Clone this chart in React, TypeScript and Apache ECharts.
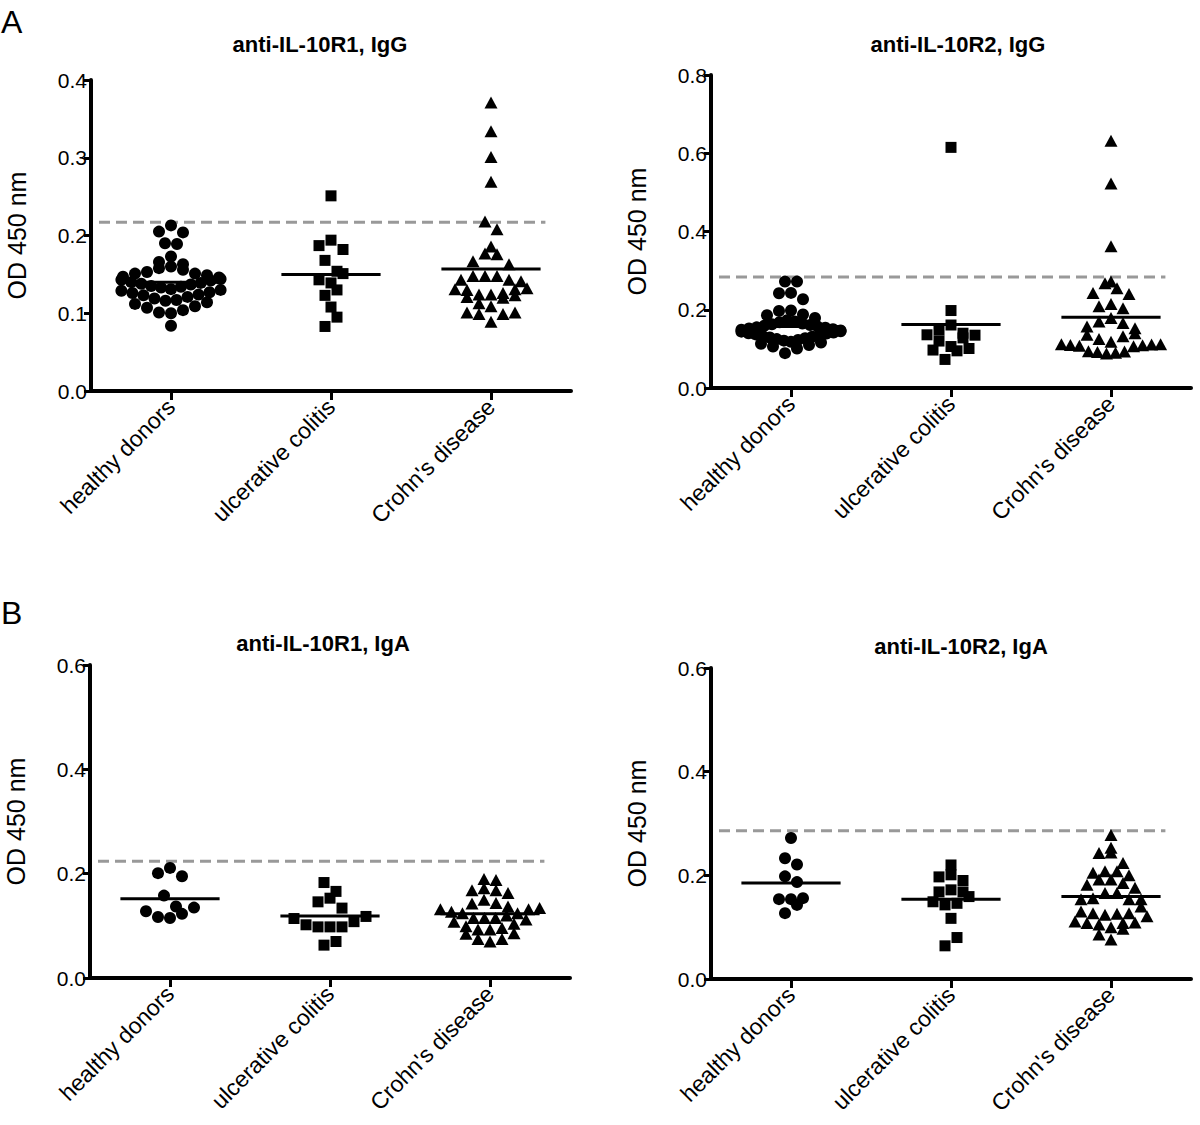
import React, { useEffect, useRef } from "react";
import * as echarts from "echarts";

const categories = ["healthy donors", "ulcerative colitis", "Crohn's disease"];
const titles = ["anti-IL-10R1, IgG", "anti-IL-10R2, IgG", "anti-IL-10R1, IgA", "anti-IL-10R2, IgA"];
const yAxisName = "OD 450 nm";
const panelLetters = ["A", "B"];

const yMaxes = [0.4, 0.8, 0.6, 0.6];
const yIntervals = [0.1, 0.2, 0.2, 0.2];

// anti-IL-10R1, IgG
const hdR1IgG = [0.213, 0.205, 0.204, 0.190, 0.189, 0.173, 0.166, 0.163, 0.160, 0.158, 0.156, 0.153, 0.151, 0.151, 0.149, 0.147, 0.146, 0.144, 0.143, 0.142, 0.140, 0.139, 0.138, 0.137, 0.135, 0.134, 0.133, 0.131, 0.130, 0.129, 0.127, 0.126, 0.124, 0.123, 0.121, 0.119, 0.117, 0.116, 0.114, 0.112, 0.109, 0.107, 0.104, 0.101, 0.100, 0.084];
const ucR1IgG = [0.251, 0.194, 0.187, 0.182, 0.168, 0.154, 0.151, 0.143, 0.139, 0.130, 0.123, 0.108, 0.095, 0.083];
const cdR1IgG = [0.371, 0.334, 0.301, 0.269, 0.218, 0.208, 0.186, 0.177, 0.176, 0.167, 0.163, 0.148, 0.148, 0.148, 0.143, 0.143, 0.141, 0.131, 0.131, 0.130, 0.132, 0.124, 0.123, 0.121, 0.120, 0.124, 0.126, 0.113, 0.109, 0.101, 0.099, 0.099, 0.101, 0.089];
const meansR1IgG = [0.140, 0.150, 0.157];

// anti-IL-10R2, IgG
const hdR2IgG = [0.272, 0.272, 0.243, 0.242, 0.227, 0.198, 0.197, 0.188, 0.186, 0.179, 0.173, 0.170, 0.168, 0.165, 0.163, 0.161, 0.159, 0.157, 0.155, 0.154, 0.152, 0.150, 0.149, 0.147, 0.145, 0.144, 0.142, 0.140, 0.139, 0.137, 0.135, 0.133, 0.131, 0.129, 0.127, 0.125, 0.123, 0.121, 0.118, 0.116, 0.113, 0.110, 0.106, 0.101, 0.089];
const ucR2IgG = [0.615, 0.198, 0.161, 0.148, 0.140, 0.136, 0.135, 0.128, 0.120, 0.106, 0.101, 0.097, 0.095, 0.073];
const cdR2IgG = [0.632, 0.523, 0.362, 0.272, 0.268, 0.255, 0.243, 0.240, 0.215, 0.209, 0.204, 0.179, 0.170, 0.166, 0.157, 0.153, 0.140, 0.136, 0.132, 0.125, 0.118, 0.112, 0.110, 0.111, 0.108, 0.109, 0.107, 0.112, 0.094, 0.092, 0.090, 0.093, 0.088];
const meansR2IgG = [0.157, 0.162, 0.181];

// anti-IL-10R1, IgA
const hdR1IgA = [0.211, 0.201, 0.195, 0.158, 0.137, 0.135, 0.128, 0.123, 0.117, 0.115];
const ucR1IgA = [0.183, 0.166, 0.153, 0.146, 0.134, 0.118, 0.114, 0.108, 0.102, 0.098, 0.098, 0.098, 0.070, 0.063];
const cdR1IgA = [0.190, 0.188, 0.172, 0.168, 0.168, 0.163, 0.150, 0.144, 0.143, 0.137, 0.134, 0.132, 0.132, 0.127, 0.124, 0.124, 0.120, 0.115, 0.115, 0.115, 0.112, 0.108, 0.104, 0.099, 0.096, 0.093, 0.093, 0.086, 0.085, 0.075, 0.075, 0.070];
const meansR1IgA = [0.152, 0.119, 0.123];

// anti-IL-10R2, IgA
const hdR2IgA = [0.272, 0.233, 0.221, 0.198, 0.187, 0.156, 0.154, 0.154, 0.143, 0.127];
const ucR2IgA = [0.220, 0.201, 0.197, 0.190, 0.172, 0.168, 0.168, 0.159, 0.149, 0.146, 0.143, 0.117, 0.080, 0.064];
const cdR2IgA = [0.278, 0.253, 0.244, 0.243, 0.224, 0.208, 0.208, 0.205, 0.200, 0.192, 0.192, 0.185, 0.182, 0.176, 0.166, 0.166, 0.156, 0.154, 0.154, 0.154, 0.140, 0.130, 0.127, 0.127, 0.126, 0.124, 0.121, 0.111, 0.109, 0.108, 0.108, 0.105, 0.100, 0.097, 0.086, 0.076];
const meansR2IgA = [0.185, 0.154, 0.159];

// cut-off (dashed) levels
const cutoffs = [0.217, 0.284, 0.224, 0.286];

const groupsByPanel = [
  [hdR1IgG, ucR1IgG, cdR1IgG],
  [hdR2IgG, ucR2IgG, cdR2IgG],
  [hdR1IgA, ucR1IgA, cdR1IgA],
  [hdR2IgA, ucR2IgA, cdR2IgA],
];
const meansByPanel = [meansR1IgG, meansR2IgG, meansR1IgA, meansR2IgA];

// layout
const grids = [
  { left: 91, top: 80, width: 480, height: 311 },
  { left: 711, top: 75, width: 480, height: 313 },
  { left: 90, top: 665, width: 480, height: 313 },
  { left: 711, top: 668, width: 480, height: 311 },
];
const titlePos = [
  [320, 44],
  [958, 44],
  [323, 643],
  [961, 646],
];
const letterPos = [
  [1, 22],
  [1, 613],
];

const FONT = "'Liberation Sans', Arial, Helvetica, sans-serif";
const symbols = ["circle", "rect", "triangle"];
const symbolSizes: any[] = [12, 11, [13, 12]];
const ROW_H = 11; // px height of a swarm row
const STEP = 12; // px spacing of points within a row
const MAX_HALF = 0.31; // max half-width of a swarm, category units

// Prism-like row swarm: horizontal offsets (category units) computed from values
function rowSwarm(vals: number[], pxV: number, pxC: number): number[] {
  const idx = vals.map((_, i) => i).sort((a, b) => vals[a] - vals[b]);
  const sortedVals = idx.map((i) => vals[i]);
  const median = sortedVals[Math.floor(sortedVals.length / 2)];
  const bins: number[][] = [];
  let cur: number[] = [];
  let start = -Infinity;
  for (const i of idx) {
    if ((vals[i] - start) * pxV > ROW_H) {
      if (cur.length) bins.push(cur);
      cur = [i];
      start = vals[i];
    } else cur.push(i);
  }
  if (cur.length) bins.push(cur);
  const out = new Array(vals.length).fill(0);
  const maxHalfPx = MAX_HALF * pxC;
  for (const b of bins) {
    const n = b.length;
    const mean = b.reduce((s, i) => s + vals[i], 0) / n;
    const ordered = [...b].sort((a, c) => (mean >= median ? vals[c] - vals[a] : vals[a] - vals[c]));
    const step = n > 1 ? Math.min(STEP, maxHalfPx / ((n - 1) / 2)) : STEP;
    const slots: number[] = [];
    if (n % 2 === 1) {
      slots.push(0);
      for (let k = 1; slots.length < n; k++) slots.push(-k, k);
    } else {
      for (let k = 0; slots.length < n; k++) slots.push(-(k + 0.5), k + 0.5);
    }
    ordered.forEach((i, j) => {
      out[i] = (slots[j] * step) / pxC;
    });
  }
  return out;
}

function buildOption() {
  const xAxis: any[] = [];
  const yAxis: any[] = [];
  const series: any[] = [];
  const graphic: any[] = [];

  grids.forEach((g, p) => {
    xAxis.push({
      gridIndex: p,
      type: "category",
      data: categories,
      boundaryGap: true,
      axisLine: { show: true, lineStyle: { color: "#000", width: 4 } },
      axisTick: { show: true, alignWithLabel: true, length: 9, lineStyle: { color: "#000", width: 3 } },
      axisLabel: { rotate: 45, interval: 0, fontSize: 23, color: "#000", fontFamily: FONT, margin: 12 },
      splitLine: { show: false },
    });
    xAxis.push({ gridIndex: p, type: "value", min: 0, max: 3, show: false });
    yAxis.push({
      gridIndex: p,
      type: "value",
      min: 0,
      max: yMaxes[p],
      interval: yIntervals[p],
      name: yAxisName,
      nameLocation: "middle",
      nameGap: 62,
      nameTextStyle: { fontSize: 25, color: "#000", fontFamily: FONT },
      axisLine: { show: true, lineStyle: { color: "#000", width: 4 } },
      axisTick: { show: true, length: 7, lineStyle: { color: "#000", width: 3 } },
      axisLabel: { formatter: (v: number) => v.toFixed(1), fontSize: 21, color: "#000", fontFamily: FONT, margin: 4 },
      splitLine: { show: false },
    });

    const pxV = g.height / yMaxes[p];
    const pxC = g.width / 3;

    // cut-off line
    series.push({
      type: "line",
      xAxisIndex: 2 * p + 1,
      yAxisIndex: p,
      data: [
        [0.05, cutoffs[p]],
        [2.84, cutoffs[p]],
      ],
      symbol: "none",
      lineStyle: { color: "#999", width: 3, type: [11, 6] },
      z: 1,
      silent: true,
    });

    groupsByPanel[p].forEach((vals, k) => {
      const offs = rowSwarm(vals, pxV, pxC);
      series.push({
        type: "scatter",
        xAxisIndex: 2 * p + 1,
        yAxisIndex: p,
        symbol: symbols[k],
        symbolSize: symbolSizes[k],
        itemStyle: { color: "#000", opacity: 1 },
        data: vals.map((v, i) => [k + 0.5 + offs[i], v]),
        z: 3,
      });
      const m = meansByPanel[p][k];
      series.push({
        type: "line",
        xAxisIndex: 2 * p + 1,
        yAxisIndex: p,
        data: [
          [k + 0.5 - 0.31, m],
          [k + 0.5 + 0.31, m],
        ],
        symbol: "none",
        lineStyle: { color: "#000", width: 3 },
        z: 4,
        silent: true,
      });
    });

    graphic.push({
      type: "text",
      x: titlePos[p][0],
      y: titlePos[p][1],
      style: {
        text: titles[p],
        fontSize: 22,
        fontWeight: "bold",
        fontFamily: FONT,
        fill: "#000",
        align: "center",
        verticalAlign: "middle",
      },
    });
  });

  panelLetters.forEach((t, i) => {
    graphic.push({
      type: "text",
      x: letterPos[i][0],
      y: letterPos[i][1],
      style: { text: t, fontSize: 32, fontFamily: FONT, fill: "#000", align: "left", verticalAlign: "middle" },
    });
  });

  return {
    animation: false,
    backgroundColor: "#fff",
    grid: grids.map((g) => ({ ...g, containLabel: false })),
    xAxis,
    yAxis,
    series,
    graphic,
  };
}

export default function App() {
  const ref = useRef<HTMLDivElement>(null);
  useEffect(() => {
    if (!ref.current) return;
    const chart = echarts.init(ref.current, undefined, { renderer: "svg" });
    chart.setOption(buildOption() as any);
    return () => chart.dispose();
  }, []);
  return (
    <div
      ref={ref}
      style={{ position: "absolute", left: 0, top: 0, width: 1200, height: 1125, background: "#fff" }}
    />
  );
}
